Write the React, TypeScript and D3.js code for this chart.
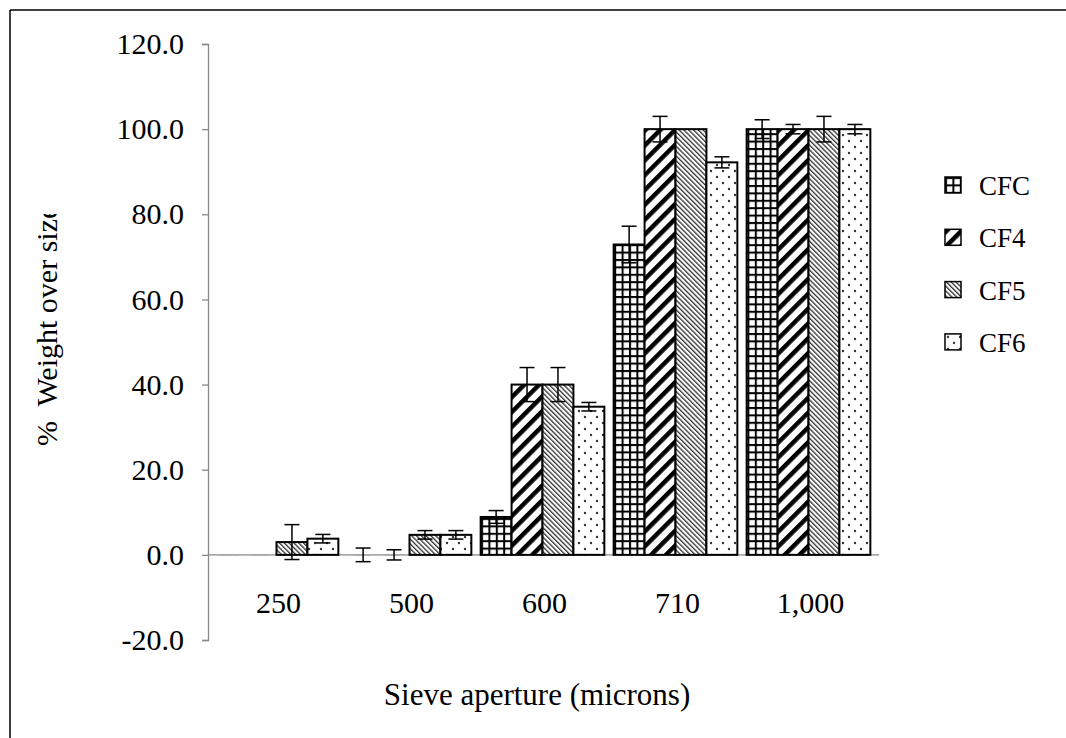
import React, { useEffect, useRef } from 'react';
import * as d3 from 'd3';

const categories = ['250', '500', '600', '710', '1,000'];
const seriesNames = ['CFC', 'CF4', 'CF5', 'CF6'];
const values = [
  [0, 0, 8.9, 72.9, 100],
  [0, 0, 40, 100, 100],
  [3, 4.7, 40, 100, 100],
  [3.8, 4.7, 34.8, 92.2, 100],
];
const errors = [
  [0, 1.6, 1.5, 4.3, 2.2],
  [0, 1.2, 4, 3, 1.1],
  [4.1, 1, 4, 0, 3],
  [1, 1, 1, 1.3, 1.1],
];
const yTicks = [-20, 0, 20, 40, 60, 80, 100, 120];
const patternIds = ['pGrid', 'pWide', 'pThin', 'pDots'];

const serif = '"Liberation Serif", "Times New Roman", serif';

const App = () => {
  const ref = useRef(null);

  useEffect(() => {
    const svg = d3.select(ref.current);
    svg.selectAll('*').remove();

    const defs = svg.append('defs');
    // grid pattern
    const g1 = defs.append('pattern').attr('id', 'pGrid').attr('patternUnits', 'userSpaceOnUse')
      .attr('width', 7.4).attr('height', 7.4);
    g1.append('rect').attr('width', 7.4).attr('height', 7.4).attr('fill', '#fff');
    g1.append('rect').attr('x', 0).attr('y', 0).attr('width', 2).attr('height', 7.4).attr('fill', '#000');
    g1.append('rect').attr('x', 0).attr('y', 0).attr('width', 7.4).attr('height', 2).attr('fill', '#000');
    // wide diagonal "/"
    const g2 = defs.append('pattern').attr('id', 'pWide').attr('patternUnits', 'userSpaceOnUse')
      .attr('width', 10.5).attr('height', 10.5).attr('patternTransform', 'rotate(45)');
    g2.append('rect').attr('width', 10.5).attr('height', 10.5).attr('fill', '#fff');
    g2.append('rect').attr('width', 4.5).attr('height', 10.5).attr('fill', '#000');
    // thin diagonal "\"
    const g3 = defs.append('pattern').attr('id', 'pThin').attr('patternUnits', 'userSpaceOnUse')
      .attr('width', 3.4).attr('height', 3.4).attr('patternTransform', 'rotate(-45)');
    g3.append('rect').attr('width', 3.4).attr('height', 3.4).attr('fill', '#fff');
    g3.append('rect').attr('width', 1.3).attr('height', 3.4).attr('fill', '#333');
    // dots
    const g4 = defs.append('pattern').attr('id', 'pDots').attr('patternUnits', 'userSpaceOnUse')
      .attr('width', 12).attr('height', 12);
    g4.append('rect').attr('width', 12).attr('height', 12).attr('fill', '#fff');
    g4.append('circle').attr('cx', 3).attr('cy', 3).attr('r', 1.2).attr('fill', '#333');
    g4.append('circle').attr('cx', 9).attr('cy', 9).attr('r', 1.2).attr('fill', '#333');

    defs.append('clipPath').attr('id', 'titleClip')
      .append('rect').attr('x', 0).attr('y', 214).attr('width', 100).attr('height', 500);

    // outer frame
    svg.append('line').attr('x1', 10).attr('y1', 10).attr('x2', 1066).attr('y2', 10)
      .attr('stroke', '#000').attr('stroke-width', 1.5);
    svg.append('line').attr('x1', 10).attr('y1', 10).attr('x2', 10).attr('y2', 738)
      .attr('stroke', '#000').attr('stroke-width', 1.5);

    var y = d3.scaleLinear().domain([-20, 120]).range([640, 44]);
    var x = d3.scaleBand().domain(categories).range([208, 877]).paddingInner(0.07).paddingOuter(0.05);
    var xs = d3.scaleBand().domain(seriesNames).range([0, x.bandwidth()]);

    // x axis line at zero
    svg.append('line').attr('x1', 208).attr('x2', 879).attr('y1', y(0)).attr('y2', y(0))
      .attr('stroke', '#888').attr('stroke-width', 1.3);

    // y axis
    const fmt = (d) => d3.format('.1f')(d).replace('\u2212', '-');
    const yAxis = svg.append('g').attr('transform', 'translate(208,0)')
      .call(d3.axisLeft(y).tickValues(yTicks).tickFormat(fmt).tickSize(6).tickPadding(18));
    yAxis.select('.domain').attr('stroke', '#888').attr('stroke-width', 1.3);
    yAxis.selectAll('.tick line').attr('stroke', '#888').attr('stroke-width', 1.3);
    yAxis.selectAll('.tick text').attr('font-family', serif).attr('font-size', 30).attr('fill', '#000');

    // bars
    seriesNames.forEach((s, si) => {
      const g = svg.append('g');
      categories.forEach((c, ci) => {
        const v = values[si][ci];
        const x0 = x(c) + xs(s);
        const w = xs.bandwidth();
        if (v === 0) {
          g.append('line').attr('x1', x0 + 6).attr('x2', x0 + w - 8).attr('y1', y(0)).attr('y2', y(0))
            .attr('stroke', '#aaa').attr('stroke-width', 1.8);
        } else {
          g.append('rect').attr('x', x0).attr('y', y(v)).attr('width', w).attr('height', y(0) - y(v))
            .attr('fill', 'url(#' + patternIds[si] + ')').attr('stroke', '#000').attr('stroke-width', 2);
        }
        const e = errors[si][ci];
        if (e > 0) {
          const cx = x0 + w / 2;
          g.append('line').attr('x1', cx).attr('x2', cx).attr('y1', y(v + e)).attr('y2', y(v - e))
            .attr('stroke', '#000').attr('stroke-width', 1.5);
          [v + e, v - e].forEach((t) => {
            g.append('line').attr('x1', cx - 7.5).attr('x2', cx + 7.5).attr('y1', y(t)).attr('y2', y(t))
              .attr('stroke', '#000').attr('stroke-width', 1.5);
          });
        }
      });
    });

    // category labels
    svg.append('g').selectAll('text').data(categories).enter().append('text')
      .attr('x', (d) => x(d) + x.bandwidth() / 2 + 2)
      .attr('y', 613)
      .attr('text-anchor', 'middle')
      .attr('font-family', serif).attr('font-size', 30)
      .text((d) => d);

    svg.append('text').attr('x', 537).attr('y', 705).attr('text-anchor', 'middle')
      .attr('font-family', serif).attr('font-size', 31).text('Sieve aperture (microns)');

    svg.append('g').attr('clip-path', 'url(#titleClip)')
      .append('text').attr('transform', 'translate(57,446) rotate(-90)')
      .attr('font-family', serif).attr('font-size', 30).style('white-space', 'pre')
      .text('%  Weight over size');

    // legend
    const leg = svg.append('g').attr('transform', 'translate(945,177)');
    seriesNames.forEach((s, i) => {
      const li = leg.append('g').attr('transform', 'translate(0,' + i * 52.3 + ')');
      li.append('rect').attr('x', 0).attr('y', 0).attr('width', 16).attr('height', 16)
        .attr('fill', 'url(#' + patternIds[i] + ')').attr('stroke', '#000').attr('stroke-width', 1.5);
      li.append('text').attr('x', 34).attr('y', 18).attr('font-family', serif).attr('font-size', 27).text(s);
    });
  }, []);

  return (
    <svg ref={ref} width={1066} height={738} style={{ position: 'absolute', left: 0, top: 0, background: '#fff' }} />
  );
};

export default App;
